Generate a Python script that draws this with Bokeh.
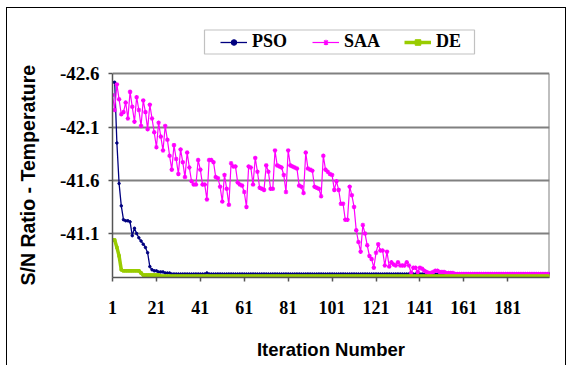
from bokeh.plotting import figure
from bokeh.models import Range1d, FixedTicker, Legend, LegendItem, BoxAnnotation, Title
from bokeh.embed import file_html
from bokeh.resources import INLINE

iterations = list(range(1, 201))

pso = [
    -42.52, -42.52, -41.95, -41.57, -41.36, -41.23, -41.22, -41.22, -41.21, -41.08,
    -41.15, -41.10, -41.06, -41.03, -41.00, -40.97, -40.92, -40.79, -40.76, -40.75,
    -40.75, -40.74, -40.74, -40.74, -40.73, -40.73, -40.73, -40.72, -40.72, -40.72,
    -40.72, -40.72, -40.72, -40.72, -40.72, -40.72, -40.72, -40.72, -40.72, -40.72,
    -40.72, -40.72, -40.72, -40.73, -40.72, -40.72, -40.72, -40.72, -40.72, -40.72,
    -40.72, -40.72, -40.72, -40.72, -40.72, -40.72, -40.72, -40.72, -40.72, -40.72,
    -40.72, -40.72, -40.72, -40.72, -40.72, -40.72, -40.72, -40.72, -40.72, -40.72,
    -40.72, -40.72, -40.72, -40.72, -40.72, -40.72, -40.72, -40.72, -40.72, -40.72,
    -40.72, -40.72, -40.72, -40.72, -40.72, -40.72, -40.72, -40.72, -40.72, -40.72,
    -40.72, -40.72, -40.72, -40.72, -40.72, -40.72, -40.72, -40.72, -40.72, -40.72,
    -40.72, -40.72, -40.72, -40.72, -40.72, -40.72, -40.72, -40.72, -40.72, -40.72,
    -40.72, -40.72, -40.72, -40.72, -40.72, -40.72, -40.72, -40.72, -40.72, -40.72,
    -40.72, -40.72, -40.72, -40.72, -40.72, -40.72, -40.72, -40.72, -40.72, -40.72,
    -40.72, -40.72, -40.72, -40.72, -40.72, -40.72, -40.72, -40.72, -40.72, -40.72,
    -40.72, -40.72, -40.72, -40.72, -40.72, -40.72, -40.72, -40.72, -40.72, -40.72,
    -40.72, -40.72, -40.72, -40.72, -40.72, -40.72, -40.72, -40.72, -40.72, -40.72,
    -40.72, -40.72, -40.72, -40.72, -40.72, -40.72, -40.72, -40.72, -40.72, -40.72,
    -40.72, -40.72, -40.72, -40.72, -40.72, -40.72, -40.72, -40.72, -40.72, -40.72,
    -40.72, -40.72, -40.72, -40.72, -40.72, -40.72, -40.72, -40.72, -40.72, -40.72,
    -40.72, -40.72, -40.72, -40.72, -40.72, -40.72, -40.72, -40.72, -40.72, -40.72,
]

saa = [
    -42.40, -42.26, -42.50, -42.36, -42.22, -42.24, -42.33, -42.18, -42.43, -42.29,
    -42.15, -42.38, -42.26, -42.11, -42.35, -42.24, -42.08, -42.31, -42.18, -42.05,
    -41.91, -42.14, -42.01, -41.88, -42.11, -41.98, -41.83, -41.70, -41.93, -41.80,
    -41.66, -41.89, -41.77, -41.63, -41.86, -41.72, -41.59, -41.56, -41.56, -41.79,
    -41.70, -41.56, -41.56, -41.42, -41.79, -41.79, -41.77, -41.63, -41.62, -41.54,
    -41.40, -41.65, -41.52, -41.37, -41.76, -41.73, -41.73, -41.58, -41.56, -41.55,
    -41.49, -41.35, -41.73, -41.72, -41.56, -41.81, -41.68, -41.53, -41.52, -41.51,
    -41.74, -41.68, -41.52, -41.52, -41.88, -41.74, -41.73, -41.72, -41.65, -41.49,
    -41.88, -41.74, -41.73, -41.72, -41.71, -41.55, -41.54, -41.48, -41.86, -41.71,
    -41.70, -41.69, -41.54, -41.53, -41.52, -41.45, -41.83, -41.70, -41.68, -41.66,
    -41.65, -41.51, -41.59, -41.51, -41.38, -41.38, -41.23, -41.23, -41.54, -41.46,
    -41.35, -41.13, -41.02, -40.93, -41.18, -41.10, -40.99, -40.89, -40.86, -40.78,
    -40.92, -41.00, -40.94, -40.94, -40.80, -40.93, -40.79, -40.83, -40.81, -40.80,
    -40.83, -40.80, -40.80, -40.80, -40.83, -40.80, -40.73, -40.78, -40.78, -40.74,
    -40.78, -40.77, -40.75, -40.74, -40.73, -40.73, -40.74, -40.75, -40.75, -40.74,
    -40.74, -40.74, -40.73, -40.73, -40.73, -40.73, -40.72, -40.72, -40.72, -40.72,
    -40.72, -40.72, -40.72, -40.72, -40.72, -40.72, -40.72, -40.72, -40.72, -40.72,
    -40.72, -40.72, -40.72, -40.72, -40.72, -40.72, -40.72, -40.72, -40.72, -40.72,
    -40.72, -40.72, -40.72, -40.72, -40.72, -40.72, -40.72, -40.72, -40.72, -40.72,
    -40.72, -40.72, -40.72, -40.72, -40.72, -40.72, -40.72, -40.72, -40.72, -40.72,
]

de = [
    -41.04, -41.04, -40.97, -40.89, -40.76, -40.75, -40.75, -40.75, -40.75, -40.75,
    -40.75, -40.75, -40.75, -40.73, -40.71, -40.71, -40.71, -40.71, -40.71, -40.71,
    -40.71, -40.71, -40.70, -40.70, -40.70, -40.70, -40.70, -40.70, -40.70, -40.70,
    -40.70, -40.70, -40.70, -40.70, -40.70, -40.70, -40.70, -40.70, -40.70, -40.70,
    -40.70, -40.70, -40.70, -40.70, -40.70, -40.70, -40.70, -40.70, -40.70, -40.70,
    -40.70, -40.70, -40.70, -40.70, -40.70, -40.70, -40.70, -40.70, -40.70, -40.70,
    -40.70, -40.70, -40.70, -40.70, -40.70, -40.70, -40.70, -40.70, -40.70, -40.70,
    -40.70, -40.70, -40.70, -40.70, -40.70, -40.70, -40.70, -40.70, -40.70, -40.70,
    -40.70, -40.70, -40.70, -40.70, -40.70, -40.70, -40.70, -40.70, -40.70, -40.70,
    -40.70, -40.70, -40.70, -40.70, -40.70, -40.70, -40.70, -40.70, -40.70, -40.70,
    -40.70, -40.70, -40.70, -40.70, -40.70, -40.70, -40.70, -40.70, -40.70, -40.70,
    -40.70, -40.70, -40.70, -40.70, -40.70, -40.70, -40.70, -40.70, -40.70, -40.70,
    -40.70, -40.70, -40.70, -40.70, -40.70, -40.70, -40.70, -40.70, -40.70, -40.70,
    -40.70, -40.70, -40.70, -40.70, -40.70, -40.70, -40.70, -40.70, -40.70, -40.70,
    -40.70, -40.70, -40.70, -40.70, -40.70, -40.70, -40.70, -40.70, -40.70, -40.70,
    -40.70, -40.70, -40.70, -40.70, -40.70, -40.70, -40.70, -40.70, -40.70, -40.70,
    -40.70, -40.70, -40.70, -40.70, -40.70, -40.70, -40.70, -40.70, -40.70, -40.70,
    -40.70, -40.70, -40.70, -40.70, -40.70, -40.70, -40.70, -40.70, -40.70, -40.70,
    -40.70, -40.70, -40.70, -40.70, -40.70, -40.70, -40.70, -40.70, -40.70, -40.70,
    -40.70, -40.70, -40.70, -40.70, -40.70, -40.70, -40.70, -40.70, -40.70, -40.70,
]

series_names = ["PSO", "SAA", "DE"]
x_ticks = [1, 21, 41, 61, 81, 101, 121, 141, 161, 181]
x_tick_labels = ["1", "21", "41", "61", "81", "101", "121", "141", "161", "181"]
y_ticks = [-42.6, -42.1, -41.6, -41.1]
y_tick_labels = ["-42.6", "-42.1", "-41.6", "-41.1"]
y_min, y_max = -42.6, -40.6875      # axis extent (reversed: y_min on top)
y_view_top = -43.10                 # extra room above the plot area for the legend
x_title = "Iteration Number"
y_title = "S/N Ratio - Temperature"

SERIF = "Liberation Serif"
SANS = "Liberation Sans"
GRID = "#808080"

p = figure(width=571, height=365, output_backend="svg", toolbar_location=None,
           x_range=Range1d(iterations[0], iterations[-1]),
           y_range=Range1d(y_max, y_view_top),
           min_border_left=112, min_border_right=22, min_border_top=20,
           min_border_bottom=88)
p.background_fill_color = "white"
p.border_fill_alpha = 0
p.outline_line_color = None
# thin outer chart border (left, top, right)
p.styles = {
    "background-color": "white",
    "background-image": ("linear-gradient(#000,#000), linear-gradient(#000,#000), "
                         "linear-gradient(#000,#000)"),
    "background-position": "6px 7px, 6px 7px, 565px 7px",
    "background-size": "1px 100%, 560px 1px, 1px 100%",
    "background-repeat": "no-repeat",
}

# axes
p.xaxis.ticker = FixedTicker(ticks=x_ticks)
p.xaxis.major_label_overrides = dict(zip(x_ticks, x_tick_labels))
p.yaxis.ticker = FixedTicker(ticks=y_ticks)
p.yaxis.major_label_overrides = dict(zip(y_ticks, y_tick_labels))
p.yaxis.bounds = (y_min, y_max)
for ax in (p.xaxis[0], p.yaxis[0]):
    ax.axis_line_color = "#555555"
    ax.axis_line_width = 1.5
    ax.major_tick_line_color = "#555555"
    ax.major_tick_line_width = 1.5
    ax.major_tick_in = 0
    ax.major_tick_out = 4
    ax.minor_tick_line_color = None
    ax.major_label_text_font = SERIF
    ax.major_label_text_font_style = "bold"
    ax.major_label_text_color = "black"
    ax.axis_label_text_font = SANS
    ax.axis_label_text_font_style = "bold"
    ax.axis_label_text_color = "black"

p.xaxis.major_label_text_font_size = "18px"
p.yaxis.major_label_text_font_size = "19px"
p.xaxis.major_label_standoff = 19
p.yaxis.major_label_standoff = 9
p.xaxis.axis_label = x_title
p.xaxis.axis_label_text_font_size = "18.5px"
p.xaxis.axis_label_standoff = 22

# vertical title, placed along the plot area's own extent
y_title_obj = Title(text=y_title, align="left", vertical_align="top", offset=-8,
                    standoff=31, text_font=SANS, text_font_style="bold",
                    text_font_size="19.5px", text_color="black")
p.add_layout(y_title_obj, "left")

p.xgrid.visible = False
p.ygrid.ticker = FixedTicker(ticks=y_ticks)
p.ygrid.grid_line_color = GRID
p.ygrid.grid_line_width = 2

# right border of the plot area
p.segment(x0=[iterations[-1]], y0=[y_min], x1=[iterations[-1]], y1=[y_max],
          line_color=GRID, line_width=2)

# series
pso_line = p.line(iterations, pso, line_color="#000080", line_width=1.3)
pso_pts = p.scatter(iterations, pso, marker="circle", size=2.5,
                    line_color="#000080", fill_color="#000080")
saa_line = p.line(iterations, saa, line_color="#FF00FF", line_width=1.2)
saa_pts = p.scatter(iterations, saa, marker="asterisk", size=4.5,
                    line_color="#FF00FF", line_width=1.2)
de_line = p.line(iterations, de, line_color="#99CC00", line_width=3.5)
de_pts = p.scatter(iterations, de, marker="square", size=2.5,
                   line_color="#99CC00", fill_color="#99CC00")

# legend box
legend_box = BoxAnnotation(left=204, right=474, top=29.5, bottom=53.5,
                           left_units="canvas", right_units="canvas",
                           top_units="canvas", bottom_units="canvas",
                           fill_color="white", fill_alpha=1,
                           line_color="#333333", line_width=1.2, level="annotation")
p.add_layout(legend_box)

legend = Legend(items=[
    LegendItem(label=series_names[0], renderers=[pso_line, pso_pts]),
    LegendItem(label=series_names[1], renderers=[saa_line, saa_pts]),
    LegendItem(label=series_names[2], renderers=[de_line, de_pts]),
], orientation="horizontal", location=(108, 225))
legend.padding = 0
legend.spacing = 24
legend.glyph_width = 27
legend.glyph_height = 14
legend.label_width = 36
legend.label_height = 14
legend.label_standoff = 5
legend.label_text_font = SERIF
legend.label_text_font_style = "bold"
legend.label_text_font_size = "18px"
legend.label_text_color = "black"
legend.border_line_alpha = 0
legend.background_fill_alpha = 0
legend.margin = 0
p.add_layout(legend, "center")

open("out.html", "w").write(file_html(p, INLINE))
